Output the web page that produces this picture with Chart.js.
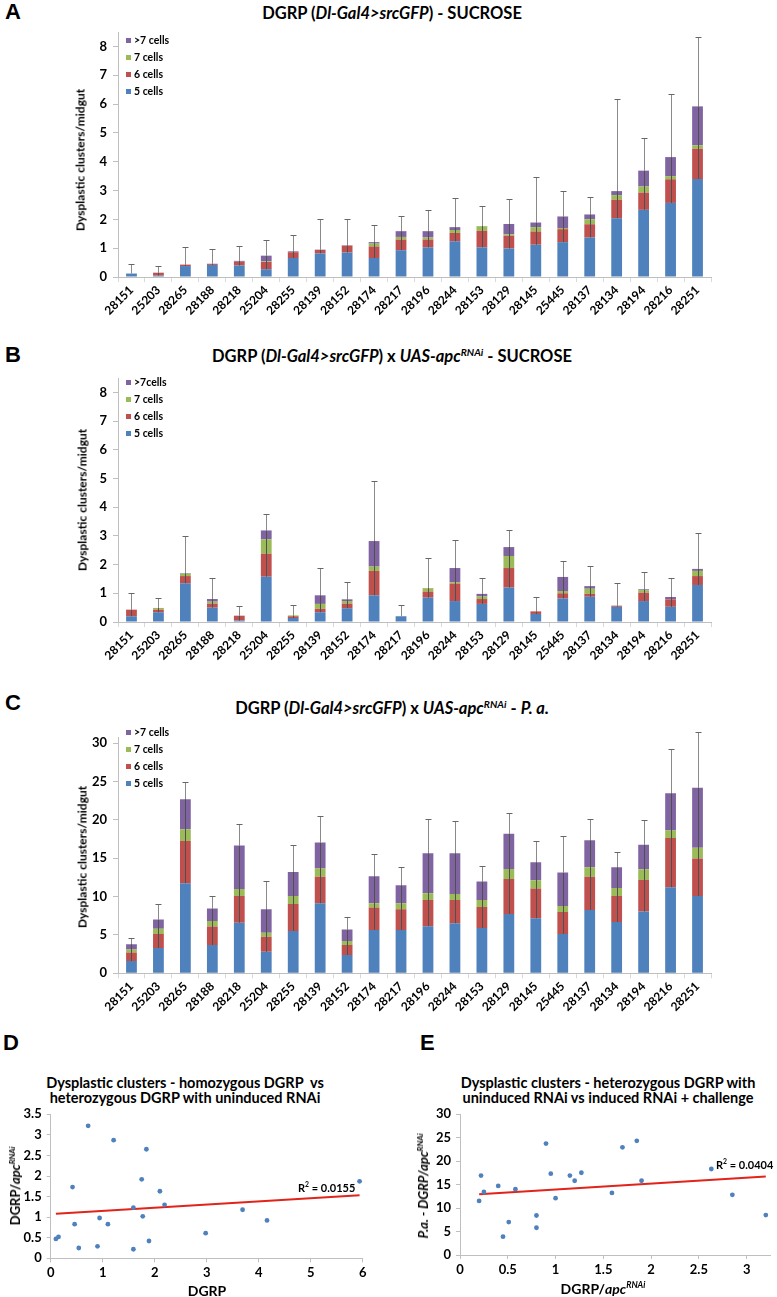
<!DOCTYPE html>
<html>
<head>
<meta charset="utf-8">
<script src="https://cdn.jsdelivr.net/npm/chart.js@4.4.1/dist/chart.umd.min.js"></script>
<style>
  body { margin: 0; background: #fff; width: 777px; height: 1297px; position: relative; overflow: hidden;
         font-family: Lato, 'Open Sans', sans-serif; color: #000; }
  .box { position: absolute; }
  .letter { position: absolute; font: bold 22px 'Liberation Sans', Arial, sans-serif; transform: translateY(-50%); }
  .title { position: absolute; font-weight: bold; font-size: 16.5px; white-space: nowrap; transform: translate(-50%, -50%); }
  .title2 { position: absolute; font-weight: bold; font-size: 14.5px; line-height: 15px; text-align: center; white-space: nowrap; transform: translate(-50%, -50%); }
  .ytitle { position: absolute; font-weight: bold; font-size: 12px; white-space: nowrap; transform: translate(-50%, -50%) rotate(-90deg); }
  .xtitle { position: absolute; font-weight: bold; font-size: 14px; white-space: nowrap; transform: translate(-50%, -50%); }
  .rsq { position: absolute; font-weight: bold; font-size: 11px; white-space: nowrap; transform: translateY(-50%); }
  .legend { position: absolute; font-weight: bold; font-size: 10.5px; }
  .lg-row { height: 17px; line-height: 17px; white-space: nowrap; }
  .sw { display: inline-block; width: 5px; height: 5px; margin-right: 3px; vertical-align: 1px; }
  sup { font-size: 0.62em; vertical-align: 0.6em; line-height: 0; }
</style>
</head>
<body>

<div class="letter" style="left:5px;top:12px">A</div>
<div class="title" style="left:392px;top:13px">DGRP (<i>Dl-Gal4&gt;srcGFP</i>) - SUCROSE</div>
<div class="box" style="left:40px;top:28px"><canvas id="chartA" width="690" height="300"></canvas></div>
<div class="ytitle" style="left:80px;top:160px">Dysplastic clusters/midgut</div>
<div class="legend" id="legendA" style="left:126px;top:32px"></div>

<div class="letter" style="left:5px;top:355px">B</div>
<div class="title" style="left:392px;top:356px">DGRP (<i>Dl-Gal4&gt;srcGFP</i>) x <i>UAS-apc<sup>RNAi</sup></i> - SUCROSE</div>
<div class="box" style="left:40px;top:372px"><canvas id="chartB" width="690" height="300"></canvas></div>
<div class="ytitle" style="left:82px;top:500px">Dysplastic clusters/midgut</div>
<div class="legend" id="legendB" style="left:126px;top:374px"></div>

<div class="letter" style="left:5px;top:703px">C</div>
<div class="title" style="left:392px;top:708px">DGRP (<i>Dl-Gal4&gt;srcGFP</i>) x <i>UAS-apc<sup>RNAi</sup></i> - <i>P. a.</i></div>
<div class="box" style="left:40px;top:730px"><canvas id="chartC" width="690" height="295"></canvas></div>
<div class="ytitle" style="left:82px;top:857px">Dysplastic clusters/midgut</div>
<div class="legend" id="legendC" style="left:126px;top:724px"></div>

<div class="letter" style="left:3px;top:1043px">D</div>
<div class="title2" style="left:185px;top:1090px">Dysplastic clusters - homozygous DGRP&nbsp; vs<br>heterozygous DGRP with uninduced RNAi</div>
<div class="box" style="left:0px;top:1105px"><canvas id="chartD" width="385" height="192"></canvas></div>
<div class="ytitle" style="left:15px;top:1186px;font-size:13px">DGRP/<i>apc</i><sup><i>RNAi</i></sup></div>
<div class="xtitle" style="left:207px;top:1290px">DGRP</div>
<div class="rsq" style="left:298px;top:1187px">R<sup>2</sup> = 0.0155</div>

<div class="letter" style="left:420px;top:1043px">E</div>
<div class="title2" style="left:608px;top:1090px">Dysplastic clusters - heterozygous DGRP with<br>uninduced RNAi vs induced RNAi + challenge</div>
<div class="box" style="left:395px;top:1105px"><canvas id="chartE" width="382" height="192"></canvas></div>
<div class="ytitle" style="left:423px;top:1186px;font-size:13px"><i>P.a. - DGRP/apc<sup>RNAi</sup></i></div>
<div class="xtitle" style="left:603px;top:1288px">DGRP/<i>apc</i><sup><i>RNAi</i></sup></div>
<div class="rsq" style="left:716px;top:1164px">R<sup>2</sup> = 0.0404</div>

<script>
// Shared categories and series
const strains = ['28151', '25203', '28265', '28188', '28218', '25204', '28255', '28139', '28152', '28174', '28217',
                 '28196', '28244', '28153', '28129', '28145', '25445', '28137', '28134', '28194', '28216', '28251'];
const seriesColors = ['#4f81bd', '#c0504d', '#9bbb59', '#8064a2'];
const labelsAC = ['5 cells', '6 cells', '7 cells', '>7 cells'];
const labelsB = ['5 cells', '6 cells', '7 cells', '>7cells'];

// Panel A - homozygous DGRP, sucrose
const a5   = [0.12, 0.05, 0.38, 0.42, 0.40, 0.27, 0.66, 0.82, 0.85, 0.66, 0.93, 1.03, 1.24, 1.03, 0.99, 1.12, 1.21, 1.37, 2.04, 2.33, 2.57, 3.40];
const a6   = [0, 0.10, 0.05, 0.04, 0.13, 0.25, 0.20, 0.12, 0.24, 0.40, 0.37, 0.27, 0.29, 0.57, 0.44, 0.46, 0.45, 0.46, 0.64, 0.60, 0.82, 1.05];
const a7   = [0, 0, 0, 0, 0, 0.02, 0, 0, 0, 0.10, 0.09, 0.07, 0.10, 0.16, 0.05, 0.15, 0.04, 0.17, 0.16, 0.21, 0.11, 0.12];
const aGt7 = [0, 0, 0, 0, 0.03, 0.20, 0.03, 0.01, 0.01, 0.05, 0.20, 0.22, 0.10, 0.01, 0.36, 0.16, 0.40, 0.17, 0.14, 0.55, 0.66, 1.35];
const aErr = [0.44, 0.38, 1.03, 0.98, 1.08, 1.27, 1.45, 2.0, 2.0, 1.8, 2.12, 2.34, 2.75, 2.46, 2.71, 3.48, 3.0, 2.76, 6.18, 4.83, 6.35, 8.31];

// Panel B - heterozygous DGRP x UAS-apcRNAi, sucrose
const b5   = [0.20, 0.34, 1.35, 0.50, 0.05, 1.58, 0.14, 0.34, 0.48, 0.93, 0.20, 0.85, 0.73, 0.63, 1.20, 0.28, 0.82, 0.88, 0.53, 0.73, 0.53, 1.29];
const b6   = [0.23, 0.09, 0.25, 0.14, 0.17, 0.80, 0.06, 0.12, 0.16, 0.85, 0, 0.21, 0.61, 0.17, 0.68, 0.09, 0.18, 0.10, 0.04, 0.29, 0.26, 0.31];
const b7   = [0, 0.06, 0.08, 0.07, 0, 0.50, 0.03, 0.17, 0.09, 0.15, 0, 0.12, 0.05, 0.09, 0.42, 0, 0.08, 0.18, 0, 0.09, 0, 0.18];
const bGt7 = [0, 0, 0.02, 0.09, 0, 0.31, 0, 0.30, 0.06, 0.89, 0, 0, 0.49, 0.09, 0.31, 0, 0.49, 0.09, 0, 0.03, 0.08, 0.07];
const bErr = [1.0, 0.84, 3.0, 1.55, 0.56, 3.75, 0.60, 1.87, 1.38, 4.91, 0.60, 2.22, 2.85, 1.52, 3.2, 0.86, 2.13, 1.95, 1.35, 1.75, 1.54, 3.09];

// Panel C - heterozygous DGRP x UAS-apcRNAi, P. a.
const c5   = [1.6, 3.3, 11.74, 3.7, 6.6, 2.8, 5.52, 9.13, 2.4, 5.65, 5.65, 6.13, 6.52, 5.91, 7.74, 7.17, 5.13, 8.26, 6.7, 8.04, 11.22, 10.09];
const c6   = [1.1, 1.83, 5.52, 2.4, 3.49, 1.98, 3.52, 3.47, 1.3, 2.92, 2.7, 3.44, 3.05, 2.74, 4.56, 3.87, 2.87, 4.34, 3.39, 4.13, 6.43, 4.87];
const c7   = [0.4, 0.67, 1.52, 0.73, 0.91, 0.52, 1.05, 1.05, 0.5, 0.56, 0.78, 0.86, 0.78, 0.92, 1.3, 1.09, 0.78, 1.23, 1.04, 1.4, 0.95, 1.39];
const cGt7 = [0.7, 1.2, 3.92, 1.6, 5.65, 3.05, 3.11, 3.39, 1.5, 3.52, 2.35, 5.22, 5.3, 2.39, 4.6, 2.35, 4.35, 3.52, 2.7, 3.17, 4.88, 7.82];
const cErr = [4.6, 9.0, 24.87, 10.1, 19.4, 12.04, 16.7, 20.55, 7.33, 15.5, 13.9, 20.1, 19.9, 14.0, 20.87, 17.2, 17.9, 20.1, 15.87, 19.96, 29.3, 31.4];

// Panel D - homozygous DGRP vs DGRP/apcRNAi
const dX = [0.10, 0.15, 0.42, 0.46, 0.54, 0.72, 0.90, 0.94, 1.10, 1.21, 1.59, 1.59, 1.75, 1.77, 1.84, 1.89, 2.10, 2.19, 2.98, 3.69, 4.16, 5.94];
const dY = [0.47, 0.52, 1.73, 0.83, 0.25, 3.22, 0.29, 0.98, 0.83, 2.87, 0.22, 1.23, 1.92, 1.02, 2.65, 0.42, 1.63, 1.30, 0.61, 1.18, 0.92, 1.87];
const dTrendX = [0.10, 5.94];
const dTrendY = [1.08, 1.53];

// Panel E - DGRP/apcRNAi vs P.a. - DGRP/apcRNAi
const eX = [0.20, 0.22, 0.25, 0.40, 0.45, 0.51, 0.58, 0.80, 0.80, 0.90, 0.95, 1.00, 1.15, 1.20, 1.27, 1.59, 1.70, 1.85, 1.90, 2.63, 2.85, 3.20];
const eY = [11.5, 16.9, 13.4, 14.7, 3.9, 7.0, 14.0, 8.4, 5.8, 23.7, 17.3, 12.1, 16.9, 15.8, 17.5, 13.2, 22.9, 24.3, 15.8, 18.3, 12.8, 8.5];
const eTrendX = [0.20, 3.20];
const eTrendY = [12.9, 16.7];

const tickFont = { family: 'Lato', weight: 'bold', size: 13 };
const axisGrey = '#bfbfbf';

// draws one error bar per stack, from the 5-cell segment up to the error top
const errorBars = {
    id: 'errorBars',
    afterDatasetsDraw(chart, args, opts) {
        const tops = opts.tops;
        if (!tops) return;
        const { ctx } = chart;
        const x = chart.scales.x, y = chart.scales.y;
        const sets = chart.data.datasets;
        ctx.save();
        ctx.lineWidth = 1;
        tops.forEach((top, i) => {
            const total = sets.reduce((s, d) => s + d.data[i], 0);
            const px = Math.round(x.getPixelForValue(i)) + 0.5;
            const yBase = y.getPixelForValue(sets[0].data[i]);
            const yTot = y.getPixelForValue(total);
            const yTop = Math.round(y.getPixelForValue(top)) + 0.5;
            ctx.strokeStyle = '#505050';
            ctx.beginPath(); ctx.moveTo(px, yBase); ctx.lineTo(px, yTot); ctx.stroke();
            ctx.strokeStyle = '#8a8a8a';
            ctx.beginPath(); ctx.moveTo(px, yTot); ctx.lineTo(px, yTop); ctx.stroke();
            ctx.strokeStyle = '#666';
            ctx.beginPath(); ctx.moveTo(px - 3, yTop); ctx.lineTo(px + 3, yTop); ctx.stroke();
        });
        ctx.restore();
    }
};
Chart.register(errorBars);

// replace the generated ticks with plain multiples of step up to limit
function stepTicks(step, limit) {
    return s => {
        const out = [];
        for (let k = 0; k * step <= limit + 1e-9; k++) out.push({ value: +(k * step).toFixed(4) });
        s.ticks = out;
    };
}

function plainNumber(v) {
    return String(+v.toFixed(2));
}

function buildLegend(id, labels) {
    const el = document.getElementById(id);
    for (let i = labels.length - 1; i >= 0; i--) {
        const row = document.createElement('div');
        row.className = 'lg-row';
        const sw = document.createElement('span');
        sw.className = 'sw';
        sw.style.background = seriesColors[i];
        row.appendChild(sw);
        row.appendChild(document.createTextNode(labels[i]));
        el.appendChild(row);
    }
}

function stackedChart(id, parts, labels, tops, yMax, yStep, yLast, box) {
    return new Chart(document.getElementById(id), {
        type: 'bar',
        data: {
            labels: strains,
            datasets: parts.map((d, i) => ({
                label: labels[i],
                data: d,
                backgroundColor: seriesColors[i],
                borderWidth: 0,
                categoryPercentage: 1,
                barPercentage: 0.4
            }))
        },
        options: {
            responsive: false,
            animation: false,
            devicePixelRatio: 1,
            layout: { padding: { top: box.top, right: box.right, left: 0, bottom: 0 } },
            plugins: { legend: { display: false }, tooltip: { enabled: false }, errorBars: { tops } },
            scales: {
                x: {
                    stacked: true,
                    grid: { offset: true, drawOnChartArea: false, tickLength: 5, color: '#d9d9d9' },
                    border: { color: axisGrey },
                    ticks: { minRotation: 45, maxRotation: 45, autoSkip: false, padding: 1, color: '#000',
                             font: { family: 'Lato', weight: 'bold', size: 12 } },
                    afterFit: s => { s.height = box.xh; s.paddingLeft = 0; s.paddingRight = 0; }
                },
                y: {
                    stacked: true,
                    min: 0,
                    max: yMax,
                    ticks: { padding: 6, color: '#000', font: tickFont, callback: plainNumber },
                    afterBuildTicks: stepTicks(yStep, yLast),
                    grid: { drawOnChartArea: false, tickLength: 5, color: axisGrey },
                    border: { color: axisGrey },
                    afterFit: s => { s.width = box.yw; s.paddingTop = 0; s.paddingBottom = 0; }
                }
            }
        }
    });
}

function scatterChart(id, xs, ys, tx, ty, xr, yr, box) {
    return new Chart(document.getElementById(id), {
        type: 'scatter',
        data: {
            datasets: [
                {
                    data: xs.map((v, i) => ({ x: v, y: ys[i] })),
                    backgroundColor: '#4f81bd',
                    borderWidth: 0,
                    pointRadius: 2.4
                },
                {
                    type: 'line',
                    data: tx.map((v, i) => ({ x: v, y: ty[i] })),
                    borderColor: '#e2231a',
                    borderWidth: 2,
                    pointRadius: 0,
                    fill: false
                }
            ]
        },
        options: {
            responsive: false,
            animation: false,
            devicePixelRatio: 1,
            layout: { padding: { top: box.top, right: box.right, left: 0, bottom: 0 } },
            plugins: { legend: { display: false }, tooltip: { enabled: false } },
            scales: {
                x: {
                    type: 'linear', min: xr[0], max: xr[1],
                    ticks: { padding: 3, color: '#000', font: tickFont, callback: plainNumber },
                    afterBuildTicks: stepTicks(xr[2], xr[3]),
                    grid: { drawOnChartArea: false, tickLength: 4, color: axisGrey },
                    border: { color: axisGrey },
                    afterFit: s => { s.height = box.xh; s.paddingLeft = 0; s.paddingRight = 0; }
                },
                y: {
                    min: yr[0], max: yr[1],
                    ticks: { padding: 5, color: '#000', font: tickFont, callback: plainNumber },
                    afterBuildTicks: stepTicks(yr[2], yr[1]),
                    grid: { drawOnChartArea: false, tickLength: 4, color: axisGrey },
                    border: { color: axisGrey },
                    afterFit: s => { s.width = box.yw; s.paddingTop = 0; s.paddingBottom = 0; }
                }
            }
        }
    });
}

buildLegend('legendA', labelsAC);
buildLegend('legendB', labelsB);
buildLegend('legendC', labelsAC);

stackedChart('chartA', [a5, a6, a7, aGt7], labelsAC, aErr, 8.5, 1, 8, { top: 4, right: 19, yw: 78, xh: 51 });
stackedChart('chartB', [b5, b6, b7, bGt7], labelsB, bErr, 8.5, 1, 8, { top: 6, right: 19, yw: 78, xh: 50 });
stackedChart('chartC', [c5, c6, c7, cGt7], labelsAC, cErr, 30.8, 5, 30, { top: 7, right: 19, yw: 78, xh: 51.7 });

scatterChart('chartD', dX, dY, dTrendX, dTrendY, [0, 6, 1, 6], [0, 3.5, 0.5], { top: 9.3, right: 22.3, yw: 50.7, xh: 38.7 });
scatterChart('chartE', eX, eY, eTrendX, eTrendY, [0, 3.244, 0.5, 3], [0, 30, 5], { top: 9, right: 7, yw: 65, xh: 42 });
</script>
</body>
</html>
